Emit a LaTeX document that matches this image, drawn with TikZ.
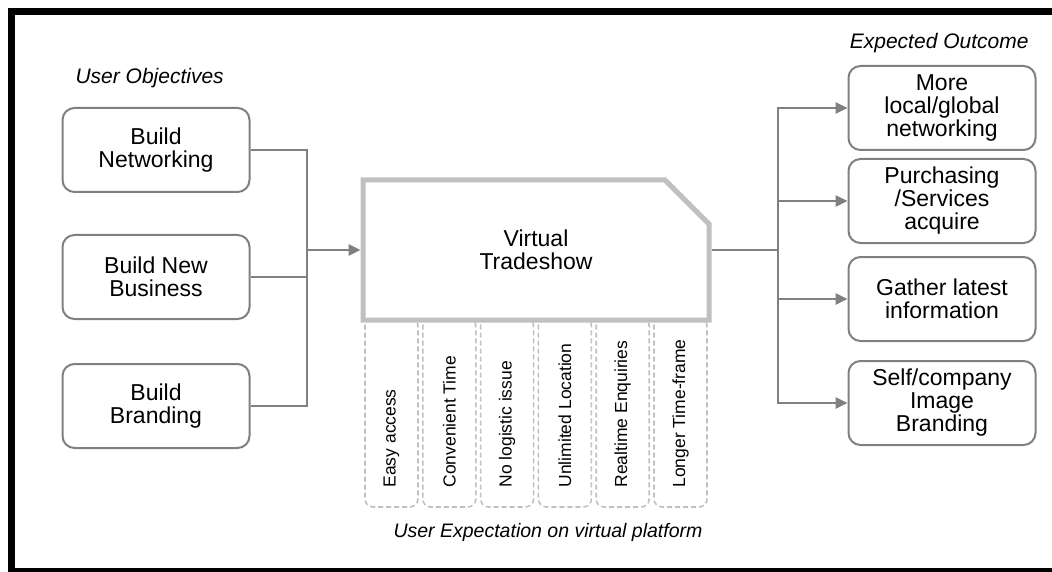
\documentclass[tikz,border=0pt]{standalone}
\usepackage{fontspec}
\setmainfont{Liberation Sans}
\usetikzlibrary{arrows.meta,shapes.misc}
\definecolor{linegray}{HTML}{808080}
\definecolor{palegray}{HTML}{C0C0C0}
\tikzset{
	objbox/.style={draw=linegray, line width=2pt, rounded corners=12pt, fill=white,
		minimum width=187pt, minimum height=84pt, inner sep=0pt, align=center,
		font=\fontsize{23}{23}\selectfont},
	dashbox/.style={draw=palegray, dash pattern=on 5pt off 3pt, line width=1.6pt, rounded corners=8pt,
		minimum width=53pt, minimum height=189pt, inner sep=0pt},
	link/.style={draw=linegray, line width=2.5pt},
	arr/.style={link, -{Triangle[length=12pt,width=11pt]}},
	head/.style={font=\fontsize{21}{25}\selectfont\itshape}
}
\begin{document}
\begin{tikzpicture}[x=1pt,y=-1pt]
			\clip (0,0) rectangle (1052,572);
			\useasboundingbox (0,0) rectangle (1052,572);
			\draw[line width=7pt] (11.5,12) rectangle (1065,571.5);
			\node[head, anchor=west] (objhead) at (72,78) {User Objectives};
			\node[head, anchor=east] (outhead) at (1032,43) {Expected Outcome};
			\node[font=\fontsize{19.5}{23}\selectfont\itshape] (exphead) at (548,532) {User Expectation on virtual platform};
			\foreach \i/\x/\t in {1/391.5/Easy access, 2/449.3/Convenient Time, 3/507.1/No logistic issue,
				4/564.9/Unlimited Location, 5/622.7/Realtime Enquiries, 6/680.5/Longer Time-frame} {
				\node[dashbox] (e\i) at (\x,412.5) {};
				\node[rotate=90, anchor=west, font=\fontsize{17.5}{20}\selectfont] (t\i) at (\x,491) {\t};
			}
			\node[draw=palegray, fill=white, line width=5pt, chamfered rectangle, chamfered rectangle corners=north east,
				chamfered rectangle xsep=22pt, chamfered rectangle ysep=22pt, minimum width=346pt, minimum height=140pt,
				align=center, font=\fontsize{23}{23}\selectfont] (vt) at (536,250) {Virtual\\Tradeshow};
			\node[objbox] (obj1) at (156,150) {Build\\Networking};
			\node[objbox] (obj2) at (156,277) {Build New\\Business};
			\node[objbox] (obj3) at (156,406) {Build\\Branding};
			\node[objbox] (out1) at (942,108) {More\\local/global\\networking};
			\node[objbox] (out2) at (942,201) {Purchasing\\/Services\\acquire};
			\node[objbox] (out3) at (942,299) {Gather latest\\information};
			\node[objbox] (out4) at (942,403) {Self/company\\Image\\Branding};
			\coordinate (jl) at (307,250);
			\coordinate (jr) at (778,250);
			\draw[link] (obj1.east) -| (jl);
			\draw[link] (obj2.east) -| (jl);
			\draw[link] (obj3.east) -| (jl);
			\draw[arr] (jl) -- (vt.west);
			\draw[link] (vt.east) -- (jr);
			\foreach \k in {1,...,4}
				\draw[arr] (jr) |- (out\k.west);
		\end{tikzpicture}
\end{document}
